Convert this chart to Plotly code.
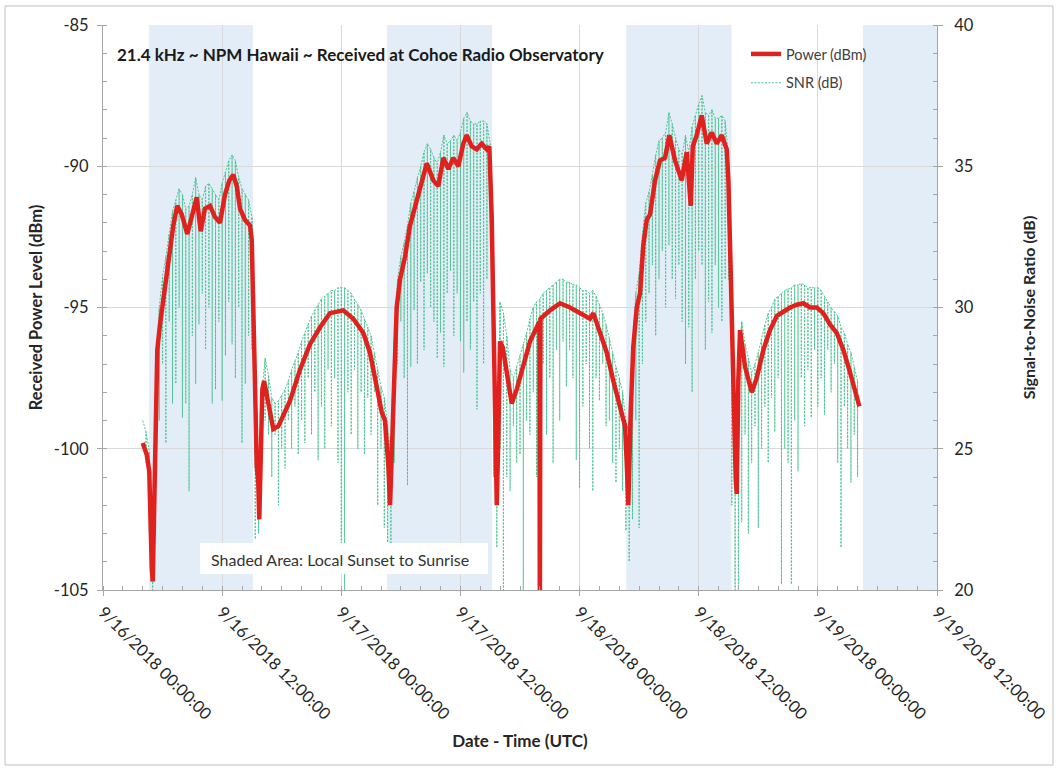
import plotly.graph_objects as go
import pandas as pd

BASE = pd.Timestamp("2018-09-16 00:00:00")

# ---- Power (dBm): hours after 9/16/2018 00:00 UTC, and values ----
power_hours = [4.00, 4.40, 4.66, 4.73, 4.91, 5.01, 5.17, 5.27, 5.47, 5.74,
               6.07, 6.42, 6.75, 7.08, 7.48, 7.93, 8.49, 9.10, 9.44, 9.84,
               10.27, 10.78, 11.28, 11.78, 12.29, 12.72, 13.12, 13.47, 13.80, 14.30,
               14.81, 14.98, 15.21, 15.31, 15.48, 15.64, 15.74, 15.91, 16.05, 16.22,
               16.65, 17.15, 17.66, 18.84, 19.84, 20.85, 21.86, 22.86, 24.20, 25.21,
               26.22, 26.89, 27.57, 28.07, 28.40, 28.74, 28.91, 29.11, 29.31, 29.58,
               29.92, 30.42, 30.92, 31.60, 32.10, 32.61, 32.94, 33.27, 33.77, 34.28,
               34.78, 35.28, 35.79, 36.29, 36.63, 37.14, 37.64, 38.14, 38.65, 38.91,
               39.15, 39.31, 39.48, 39.66, 39.82, 39.99, 40.26, 40.66, 41.17, 41.67,
               42.33, 43.01, 43.82, 43.95, 44.00, 44.06, 45.02, 46.03, 47.04, 48.05,
               49.05, 49.39, 50.06, 50.74, 51.40, 52.08, 52.58, 52.75, 52.91, 53.15,
               53.41, 53.76, 54.09, 54.42, 54.76, 55.10, 55.60, 56.10, 56.61, 57.04,
               57.62, 58.29, 58.79, 59.20, 59.40, 59.80, 60.30, 60.81, 61.31, 61.82,
               62.32, 62.82, 62.99, 63.23, 63.43, 63.56, 63.73, 63.83, 63.99, 64.16,
               64.67, 65.34, 65.84, 66.51, 67.18, 67.86, 68.52, 69.20, 69.87, 70.54,
               71.21, 71.89, 72.55, 73.22, 73.90, 74.57, 75.24, 75.75, 76.18]
power_dbm = [-99.8, -100.2, -100.8, -102.4, -104.2, -104.7, -101.8, -99.1, -96.5, -95.6,
             -94.7, -93.9, -93.0, -92.1, -91.4, -91.7, -92.4, -91.6, -91.1, -92.3,
             -91.5, -91.4, -91.8, -92.0, -91.0, -90.5, -90.3, -90.7, -91.5, -91.9,
             -92.1, -92.6, -95.3, -97.7, -100.6, -101.2, -102.5, -100.0, -97.9, -97.6,
             -98.3, -99.3, -99.2, -98.3, -97.2, -96.3, -95.7, -95.2, -95.1, -95.4,
             -95.9, -96.6, -97.8, -98.7, -99.0, -100.6, -102.0, -99.5, -97.1, -95.0,
             -94.0, -93.2, -92.1, -91.2, -90.6, -89.9, -90.2, -90.5, -90.7, -89.7,
             -90.1, -89.7, -90.0, -89.2, -88.9, -89.3, -89.4, -89.2, -89.4, -89.3,
             -91.8, -94.7, -98.3, -102.0, -99.5, -96.2, -96.4, -97.3, -98.4, -97.9,
             -97.1, -96.2, -95.6, -95.5, -106.0, -95.4, -95.1, -94.85, -95.0, -95.2,
             -95.4, -95.2, -95.9, -96.6, -97.6, -98.5, -99.2, -100.5, -102.0, -98.7,
             -96.4, -95.0, -94.5, -92.8, -91.9, -91.7, -90.5, -89.8, -89.7, -88.9,
             -89.8, -90.5, -89.5, -91.4, -89.3, -88.9, -88.2, -89.2, -88.8, -89.2,
             -88.9, -89.4, -90.5, -93.8, -97.6, -98.7, -101.1, -101.6, -97.6, -95.8,
             -97.1, -98.0, -97.5, -96.5, -95.8, -95.3, -95.15, -95.0, -94.9, -94.85,
             -95.0, -95.0, -95.2, -95.6, -95.9, -96.5, -97.3, -97.9, -98.5]

# ---- SNR (dB): samples every 20 min from 9/16 04:00 UTC ----
# snr_top = upper level of each sample, snr_floor = bottom of its drop-out
snr_start = "2018-09-16 04:00:00"
snr_step = "20min"
snr_top = [26.0, 25.6, 24.9, 21.0, 27.3, 30.0, 31.1, 31.8, 32.6, 33.4, 33.8, 34.2,
           34.0, 33.5, 33.6, 34.0, 34.6, 34.0, 33.8, 34.3, 34.4, 34.2, 34.0, 33.8,
           34.4, 34.8, 35.2, 35.4, 35.2, 34.6, 34.2, 34.0, 33.8, 33.2, 27.8, 23.0,
           27.0, 28.2, 27.6, 26.8, 26.6, 26.7, 26.9, 27.1, 27.4, 27.8, 28.1, 28.4,
           28.8, 29.1, 29.4, 29.7, 29.9, 30.1, 30.3, 30.4, 30.5, 30.6, 30.6, 30.7,
           30.7, 30.7, 30.6, 30.5, 30.3, 30.1, 29.9, 29.6, 29.3, 29.0, 28.4, 27.8,
           27.2, 26.8, 25.8, 24.5, 28.8, 31.0, 31.8, 32.3, 32.9, 33.7, 34.1, 34.6,
           35.0, 35.5, 35.8, 35.6, 35.3, 35.1, 35.5, 36.1, 35.8, 35.9, 36.1, 35.9,
           36.2, 36.7, 36.9, 36.6, 36.5, 36.5, 36.6, 36.6, 36.5, 35.8, 31.0, 23.5,
           30.2, 29.8, 29.0, 27.8, 27.5, 27.9, 28.3, 28.7, 29.1, 29.6, 30.0, 30.2,
           30.3, 30.5, 30.6, 30.7, 30.8, 30.9, 31.0, 31.0, 30.9, 30.9, 30.8, 30.8,
           30.7, 30.6, 30.6, 30.5, 30.6, 30.4, 30.1, 29.8, 29.4, 28.9, 28.4, 27.9,
           27.5, 27.0, 26.0, 25.5, 28.8, 30.5, 31.2, 32.6, 33.7, 34.1, 34.7, 35.4,
           35.9, 36.0, 36.2, 36.9, 36.5, 36.0, 35.6, 35.4, 36.1, 35.5, 36.4, 36.8,
           37.2, 37.5, 36.9, 36.8, 37.0, 36.7, 36.7, 36.8, 36.6, 35.3, 30.0, 25.0,
           28.3, 29.5, 28.7, 28.2, 27.7, 28.0, 28.4, 28.9, 29.4, 29.8, 30.0, 30.3,
           30.4, 30.5, 30.6, 30.65, 30.7, 30.8, 30.8, 30.85, 30.8, 30.7, 30.7, 30.7,
           30.7, 30.6, 30.4, 30.2, 30.0, 29.85, 29.7, 29.3, 29.1, 28.7, 28.4, 27.9,
           27.4]
snr_floor = [26.0, 24.5, 22.0, 20.0, 24.0, 26.0, 28.0, 25.2, 29.5, 26.6, 27.3, 30.0,
             26.1, 26.6, 23.5, 29.0, 27.3, 29.4, 30.5, 28.5, 30.0, 26.6, 27.1, 29.5,
             26.7, 28.3, 30.2, 28.7, 27.5, 30.0, 25.2, 27.3, 29.0, 28.5, 21.8, 22.0,
             24.5, 26.0, 25.5, 24.0, 25.5, 23.0, 25.0, 24.3, 26.0, 25.0, 26.5, 24.8,
             26.0, 25.2, 27.5, 25.5, 27.0, 24.6, 26.5, 25.0, 27.8, 25.8, 27.5, 24.5,
             21.6, 20.0, 27.0, 25.5, 27.8, 25.0, 27.0, 24.8, 26.8, 25.5, 27.0, 23.0,
             25.0, 22.2, 21.5, 21.0, 24.5, 28.0, 29.5, 27.5, 23.7, 27.9, 29.9, 28.0,
             30.9, 28.5, 31.2, 30.0, 29.5, 28.2, 29.1, 27.9, 30.5, 31.3, 29.0, 30.5,
             28.8, 27.7, 29.5, 28.5, 30.2, 26.4, 30.5, 28.0, 31.0, 33.0, 24.0, 21.5,
             25.0, 20.0, 24.0, 23.5, 25.8, 24.5, 24.8, 20.0, 26.0, 25.5, 27.0, 24.0,
             26.5, 28.0, 25.5, 27.5, 24.5, 28.5, 26.0, 28.8, 27.2, 28.5, 27.5, 24.6,
             23.6, 26.5, 28.0, 25.0, 23.5, 27.5, 26.7, 28.0, 25.8, 26.0, 24.5, 23.8,
             25.0, 23.5, 22.1, 21.0, 22.5, 26.0, 22.2, 28.0, 29.5, 30.5, 31.5, 29.0,
             31.0, 32.0, 30.0, 32.2, 31.0, 30.3, 31.5, 29.5, 28.0, 29.3, 27.0, 31.0,
             32.0, 31.5, 28.5, 30.2, 29.1, 31.5, 30.0, 29.5, 31.0, 31.0, 23.0, 20.0,
             20.0, 22.4, 25.5, 22.0, 24.5, 25.8, 22.2, 25.0, 26.5, 24.5, 26.8, 25.6,
             27.5, 20.2, 25.0, 24.5, 20.2, 26.0, 24.2, 27.5, 25.8, 27.8, 26.1, 28.5,
             26.5, 27.5, 26.2, 28.5, 27.0, 28.0, 24.5, 21.5, 26.5, 25.0, 23.8, 25.5,
             24.0]

# ---- Local sunset / sunrise at Cohoe (hours after 9/16 00:00 UTC) ----
sunset_hours = [4.63, 28.60, 52.70, 76.55]
sunrise_hours = [15.10, 39.20, 63.30, 87.30]

# ---- axis ticks ----
X_START = "2018-09-16 00:00:00"
X_END = "2018-09-19 12:00:00"
power_ticks = [-105, -100, -95, -90, -85]
power_tick_text = ["-105", "-100", "-95", "-90", "-85"]
snr_ticks = [20, 25, 30, 35, 40]


def at(h):
    return BASE + pd.Timedelta(hours=h)


power_x = [at(h) for h in power_hours]

snr_times = pd.date_range(snr_start, periods=len(snr_top), freq=snr_step)
snr_x, snr_y = [], []
for t, top, low in zip(snr_times, snr_top, snr_floor):
    snr_x.append(t)
    snr_y.append(top)
    if low < top:
        snr_x += [t, t]
        snr_y += [low, top]

FONT = "Lato"
RED = "#E0221E"
GREEN = "#4CC493"
GRID = "#D9D9D9"
AXIS = "#A6A6A6"
TXT = "#262626"

fig = go.Figure()

fig.add_trace(go.Scatter(
    x=snr_x, y=snr_y, mode="lines", name="SNR (dB)", yaxis="y",
    line=dict(color=GREEN, width=1, dash="2px,1.5px"),
    legendgroup="snr", legendrank=2, hoverinfo="skip"))

fig.add_trace(go.Scatter(
    x=power_x, y=power_dbm, mode="lines", name="Power (dBm)", yaxis="y2",
    line=dict(color=RED, width=4.5),
    legendgroup="pwr", legendrank=1))

x_end = pd.Timestamp(X_END)
shapes = []
for s, r in zip(sunset_hours, sunrise_hours):
    x1 = min(at(r), x_end)
    shapes.append(dict(type="rect", xref="x", yref="paper", x0=at(s), x1=x1,
                       y0=0, y1=1, fillcolor="#E3EDF8", line=dict(width=0),
                       layer="below"))

L, R, T, B = 103, 123, 25, 180
W, H = 1060, 770
PW, PH = W - L - R, H - T - B


def px(xp):
    return (xp - L) / PW


def py(yp):
    return (H - B - yp) / PH


# note box
shapes.append(dict(type="rect", xref="paper", yref="paper",
                   x0=px(200), x1=px(488), y0=py(574), y1=py(543),
                   fillcolor="white", line=dict(width=0), layer="above"))
# outer chart border
shapes.append(dict(type="rect", xref="paper", yref="paper",
                   x0=px(5), x1=px(1053), y0=py(765), y1=py(6),
                   fillcolor="rgba(0,0,0,0)", line=dict(color="#BFBFBF", width=1)))

axis_common = dict(showline=True, linecolor=AXIS, linewidth=1, ticks="outside",
                   ticklen=5, tickcolor=AXIS, zeroline=False,
                   tickfont=dict(family=FONT, size=16.5, color=TXT))

fig.update_layout(
    width=W, height=H,
    margin=dict(l=L, r=R, t=T, b=B, autoexpand=False),
    paper_bgcolor="white", plot_bgcolor="white",
    font=dict(family=FONT, color=TXT),
    shapes=shapes,
    showlegend=True,
    legend=dict(x=px(746), y=py(38), xanchor="left", yanchor="top",
                bgcolor="rgba(0,0,0,0)", borderwidth=0,
                font=dict(family=FONT, size=14.5, color="#404040"),
                tracegroupgap=7, traceorder="grouped"),
    xaxis=dict(range=[X_START, X_END], type="date",
               tick0=X_START, dtick=12 * 3600 * 1000,
               tickformat="%-m/%-d/%Y %H:%M:%S", tickangle=45,
               showgrid=True, gridcolor=GRID, gridwidth=1,
               minor=dict(dtick=2 * 3600 * 1000, ticks="inside", ticklen=4,
                          tickcolor=AXIS, showgrid=False),
               title=dict(text="<b>Date - Time (UTC)</b>",
                          font=dict(family=FONT, size=17, color=TXT), standoff=12),
               **axis_common),
    yaxis=dict(range=[20, 40], side="right", tickvals=snr_ticks,
               showgrid=True, gridcolor=GRID, gridwidth=1, ticklabelstandoff=8,
               minor=dict(dtick=1, ticks="inside", ticklen=4, tickcolor=AXIS,
                          showgrid=False),
               title=dict(text="<b>Signal-to-Noise Ratio (dB)</b>",
                          font=dict(family=FONT, size=16, color=TXT), standoff=50),
               **axis_common),
    yaxis2=dict(range=[-105, -85], side="left", overlaying="y",
                tickvals=power_ticks, ticktext=power_tick_text,
                showgrid=False, ticklabelstandoff=5,
                minor=dict(dtick=1, ticks="inside", ticklen=4, tickcolor=AXIS,
                           showgrid=False),
                title=dict(text="<b>Received Power Level (dBm)</b>",
                           font=dict(family=FONT, size=16.5, color=TXT), standoff=7),
                **axis_common),
    annotations=[
        dict(text="<b>21.4 kHz ~ NPM Hawaii ~ Received at Cohoe Radio Observatory</b>",
             xref="paper", yref="paper", x=px(115), y=py(54), xanchor="left",
             yanchor="middle", showarrow=False,
             font=dict(family=FONT, size=17, color="#1A1A1A")),
        dict(text="Shaded Area: Local Sunset to Sunrise",
             xref="paper", yref="paper", x=px(340), y=py(559), xanchor="center",
             yanchor="middle", showarrow=False,
             font=dict(family=FONT, size=16, color="#333333")),
    ],
)

fig.write_html("out.html", config={"displayModeBar": False},
               post_script="document.body.style.margin='0px';")
